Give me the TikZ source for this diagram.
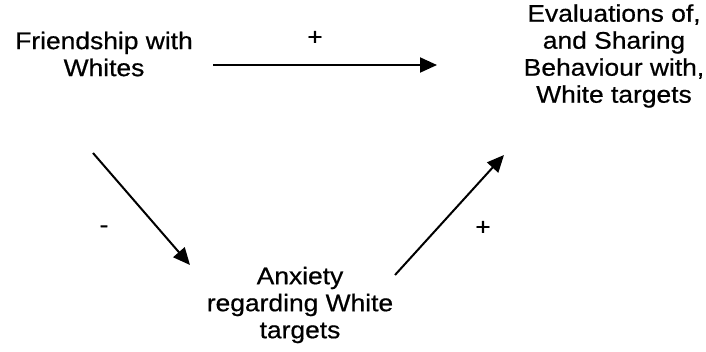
\documentclass[tikz,border=0pt]{standalone}
\usepackage{fontspec}
\setmainfont[FakeStretch=1.1, FakeBold=0.6]{Liberation Sans}
\usetikzlibrary{arrows.meta, calc}

\begin{document}
\begin{tikzpicture}[x=1pt, y=-1pt,
    every node/.style={font=\fontsize{24}{27}\selectfont, align=center, inner sep=0pt},
    link/.style={line width=2pt, -{Triangle[length=17pt, width=15pt]}}]
        \useasboundingbox (0,0) rectangle (706,351);
        \node (friend) at (104,54) {Friendship with\\Whites};
        \node (eval) at (614,56) {Evaluations of,\\and Sharing\\Behaviour with,\\White targets};
        \node (anx) at (300,305) {Anxiety\\regarding White\\targets};

        \node (plusA) at (315,38) {+};
        \node (minus) at (104,229) {-};
        \node (plusB) at (483,228) {+};

        \draw[link] ([shift={(109,11)}]friend.center) -- ([shift={(-177,9)}]eval.center);
        \draw[link] ([shift={(-11,99)}]friend.center) -- ([shift={(-110,-40)}]anx.center);
        \draw[link] ([shift={(95,-30)}]anx.center) -- ([shift={(-110,99)}]eval.center);
    \end{tikzpicture}
\end{document}
